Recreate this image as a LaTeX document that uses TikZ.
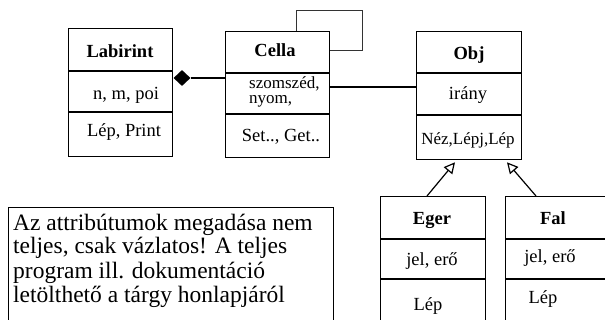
\documentclass[tikz,border=0pt]{standalone}
\usepackage{fontspec}
\setmainfont{Liberation Serif}
\usetikzlibrary{arrows.meta,calc,shapes.geometric}
\begin{document}
\begin{tikzpicture}[x=1pt,y=-1pt,
  classbox/.style={draw, line width=1.3pt, inner sep=0, anchor=north west},
  divider/.style={line width=2pt},
  ctitle/.style={font=\fontsize{18.5}{20}\bfseries, inner sep=0, anchor=base},
  ctext/.style={font=\fontsize{18.5}{20}\selectfont, inner sep=0, anchor=base},
  csmall/.style={font=\fontsize{17}{18}\selectfont, inner sep=0, anchor=base},
  assoc/.style={line width=1.5pt},
  gen/.style={line width=1.2pt, -{Triangle[open, length=11pt, width=11pt]}},
  loopline/.style={line width=0.9pt, black!80},
]
\useasboundingbox (0,0) rectangle (605,320);

% class boxes
\node[classbox, minimum width=104pt, minimum height=128pt] (lab) at (68,28) {};
\node[classbox, minimum width=104pt, minimum height=126pt] (cella) at (225,31) {};
\node[classbox, minimum width=105pt, minimum height=128pt] (obj) at (416,31) {};
\node[classbox, minimum width=105pt, minimum height=130pt] (eger) at (380,196) {};
\node[classbox, minimum width=104pt, minimum height=130pt] (fal) at (505,196) {};

% compartment dividers
\draw[divider] (lab.west |- 0,71) -- (lab.east |- 0,71);
\draw[divider] (lab.west |- 0,112) -- (lab.east |- 0,112);
\draw[divider] (cella.west |- 0,73) -- (cella.east |- 0,73);
\draw[divider] (cella.west |- 0,114) -- (cella.east |- 0,114);
\draw[divider] (obj.west |- 0,73) -- (obj.east |- 0,73);
\draw[divider] (obj.west |- 0,115) -- (obj.east |- 0,115);
\draw[divider] (eger.west |- 0,239) -- (eger.east |- 0,239);
\draw[divider] (eger.west |- 0,279) -- (eger.east |- 0,279);
\draw[divider] (fal.west |- 0,239) -- (fal.east |- 0,239);
\draw[divider] (fal.west |- 0,279) -- (fal.east |- 0,279);

% Labirint
\node[ctitle] (labT) at (120,58) {Labirint};
\node[ctext] (labA) at (126,100) {n, m, poi};
\node[ctext] (labO) at (124,137) {Lép, Print};
% Cella (two tightly set attribute lines; base anchor is on the last line)
\node[ctitle] (celT) at (275,57) {Cella};
\node[font=\fontsize{17}{15}\selectfont, align=left, inner sep=0, anchor=base west] (celA) at (249,104) {szomszéd,\\nyom,};
\node[ctext] (celO) at (281,142) {Set.., Get..};
% Obj
\node[ctitle] (objT) at (469,60) {Obj};
\node[ctext] (objA) at (468,100) {irány};
\node[csmall] (objO) at (468,145) {Néz,Lépj,Lép};
% Eger
\node[ctitle] (egT) at (432,225) {Eger};
\node[ctext] (egA) at (432,266) {jel, erő};
\node[ctext] (egO) at (428,310) {Lép};
% Fal
\node[ctitle] (falT) at (553,225) {Fal};
\node[ctext] (falA) at (550,263) {jel, erő};
\node[ctext] (falO) at (543,304) {Lép};

% note (the base anchor of a multi-line node sits on its last line)
\node[classbox, line width=1pt, minimum width=325pt, minimum height=120pt] (note) at (8,207) {};
\node[font=\fontsize{23.5}{24}\selectfont, align=left, inner sep=0, anchor=base west] (noteT) at (13,302)
  {Az attribútumok megadása nem\\teljes, csak vázlatos! A teljes\\program ill. dokumentáció\\letölthető a tárgy honlapjáról};

% aggregation Labirint -- Cella
\node[diamond, fill=black, inner sep=0, minimum width=17pt, minimum height=16pt, anchor=west] (agg) at (lab.east |- 0,78) {};
\draw[assoc] (agg.east) -- (cella.west |- agg.east);

% association Cella -- Obj
\draw[assoc] (cella.east |- 0,87) -- (obj.west |- 0,87);

% self association on Cella
\coordinate (lp1) at ($(cella.north west)+(71,0)$);
\draw[loopline] (lp1) -- ++(0,-21) -| (362,50) -- (cella.east |- 0,50);

% generalisation
\draw[gen] ($(eger.north west)+(47,0)$) -- ($(obj.south west)+(39,2)$);
\draw[gen] ($(fal.north west)+(31,0)$) -- ($(obj.south west)+(91,2)$);
\end{tikzpicture}
\end{document}
